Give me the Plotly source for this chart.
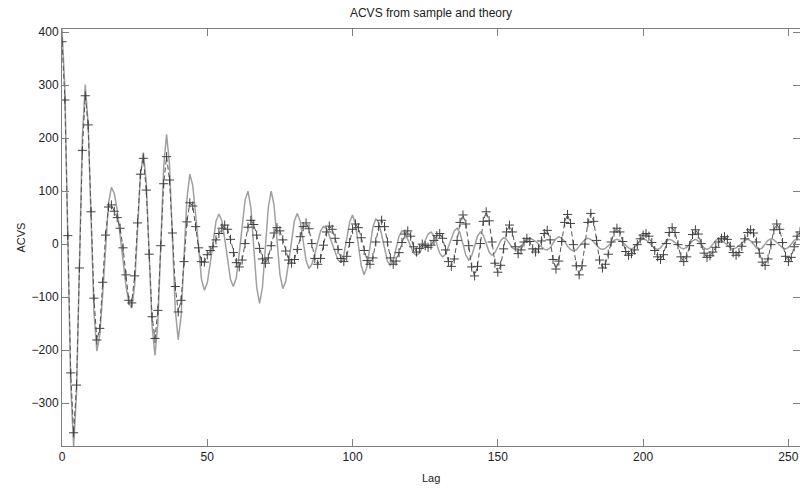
import plotly.graph_objects as go

lags = list(range(0, 256))

acvs_theory = [
    406, 291, 12, -266, -381, -281, -40, 201, 301, 227,
    49, -128, -202, -172, -95, 0, 77, 107, 96, 64,
    18, -32, -78, -110, -121, -78, 26, 130, 173, 117,
    -18, -154, -210, -149, -2, 146, 207, 150, 13, -124,
    -181, -135, -24, 86, 132, 111, 56, -11, -66, -87,
    -73, -37, 7, 43, 57, 44, 10, -33, -67, -80,
    -63, -18, 38, 83, 100, 69, -6, -81, -112, -81,
    -6, 69, 100, 73, 8, -57, -84, -70, -35, 9,
    44, 58, 43, 6, -31, -46, -38, -19, 6, 25,
    33, 29, 16, 0, -17, -30, -34, -21, 10, 42,
    55, 38, -2, -41, -58, -42, -5, 32, 48, 40,
    18, -10, -32, -40, -30, -8, 15, 25, 21, 9,
    -5, -17, -21, -17, -6, 8, 19, 23, 16, 0,
    -17, -24, -19, -5, 11, 25, 30, 21, 0, -21,
    -30, -22, -4, 15, 23, 17, 1, -15, -21, -16,
    -5, 7, 12, 9, 1, -7, -10, -8, -3, 3,
    8, 10, 9, 5, 0, -6, -10, -11, -7, 2,
    10, 14, 11, 5, -4, -10, -13, -11, -5, 3,
    9, 11, 9, 4, -3, -8, -10, -8, -3, 2,
    7, 9, 7, 3, -3, -7, -9, -6, 0, 7,
    10, 8, 3, -3, -8, -10, -7, 0, 6, 9,
    7, 3, -3, -7, -9, -6, 0, 6, 9, 6,
    0, -7, -10, -7, 0, 7, 10, 8, 3, -2,
    -7, -9, -7, -3, 3, 7, 9, 6, 0, -7,
    -10, -7, 0, 7, 10, 8, 3, -2, -7, -9,
    -6, 0, 7, 10, 8, 3,
]

acvs_sample = [
    382, 272, 16, -243, -356, -266, -45, 177, 280, 225,
    61, -102, -181, -159, -72, 17, 70, 74, 62, 50,
    30, -7, -58, -106, -111, -60, 40, 132, 162, 102,
    -19, -137, -178, -125, -3, 114, 165, 121, 21, -80,
    -128, -106, -33, 42, 78, 72, 33, -7, -33, -34,
    -20, -12, -5, 8, 20, 30, 36, 28, 9, -16,
    -35, -43, -30, 1, 32, 45, 37, 17, -8, -28,
    -36, -26, -3, 21, 31, 25, 8, -13, -30, -36,
    -29, -10, 14, 33, 40, 29, 1, -27, -38, -27,
    -2, 23, 34, 28, 11, -10, -27, -33, -23, 3,
    28, 38, 31, 12, -12, -31, -38, -26, 4, 33,
    45, 33, 4, -26, -38, -32, -16, 3, 19, 25,
    15, -5, -15, -8, 0, -3, -6, -2, 7, 16,
    20, 11, -11, -33, -42, -28, 7, 41, 55, 38,
    -3, -43, -60, -42, 1, 43, 61, 44, 4, -36,
    -53, -40, -9, 23, 36, 23, -5, -18, -11, 4,
    11, 5, -9, -15, -9, 6, 20, 26, 8, -29,
    -47, -32, 5, 41, 56, 39, -1, -41, -58, -41,
    0, 41, 58, 43, 7, -30, -45, -38, -19, 4,
    23, 30, 23, 5, -14, -21, -18, -11, -1, 10,
    17, 20, 15, 3, -12, -24, -29, -20, 1, 22,
    31, 22, -1, -24, -33, -24, -3, 18, 27, 19,
    1, -17, -25, -22, -15, -6, 4, 11, 14, 9,
    -4, -16, -21, -16, -4, 10, 22, 27, 21, 4,
    -17, -34, -40, -28, -1, 27, 38, 28, 3, -23,
    -33, -25, -5, 15, 23, 20,
]

x_ticks = [0, 50, 100, 150, 200, 250]
y_ticks = [-300, -200, -100, 0, 100, 200, 300, 400]

FONT = "Liberation Sans, Arial, sans-serif"
AXIS_GRAY = "#808080"

fig = go.Figure()

fig.add_trace(go.Scatter(
    x=lags, y=acvs_theory, mode="lines", name="theory",
    line=dict(color="#a0a0a0", width=1.5),
))

fig.add_trace(go.Scatter(
    x=lags, y=acvs_sample, mode="lines+markers", name="sample",
    line=dict(color="#555555", width=1, dash="5px,3px"),
    marker=dict(symbol="cross-thin", size=6.5,
                line=dict(color="#404040", width=1)),
))

fig.update_layout(
    width=800, height=493,
    margin=dict(l=62, r=0, t=29, b=47),
    paper_bgcolor="white", plot_bgcolor="white",
    showlegend=False,
    font=dict(family=FONT, size=12, color="#222222"),
    title=dict(text="ACVS from sample and theory",
               x=0.5, xref="paper", xanchor="center",
               y=1 - 13 / 493, yref="container", yanchor="middle",
               font=dict(family=FONT, size=12, color="#222222")),
)

fig.update_xaxes(
    range=[0, 254], tickvals=x_ticks,
    showline=True, linecolor=AXIS_GRAY, linewidth=1, mirror="ticks",
    ticks="inside", ticklen=7, tickcolor=AXIS_GRAY, tickwidth=1,
    showgrid=False, zeroline=False,
    tickfont=dict(family=FONT, size=12, color="#222222"),
)
fig.update_yaxes(
    range=[-381, 406], tickvals=y_ticks,
    showline=True, linecolor=AXIS_GRAY, linewidth=1, mirror="ticks",
    ticks="inside", ticklen=7, tickcolor=AXIS_GRAY, tickwidth=1,
    showgrid=False, zeroline=False,
    tickfont=dict(family=FONT, size=12, color="#222222"),
)

fig.add_annotation(text="Lag", xref="paper", yref="paper",
                   x=0.5, y=(446 - 478) / 417, xanchor="center", yanchor="middle",
                   showarrow=False, font=dict(family=FONT, size=11, color="#222222"))
fig.add_annotation(text="ACVS", xref="paper", yref="paper",
                   x=(20 - 62) / 738, y=0.5, xanchor="center", yanchor="middle",
                   textangle=-90, showarrow=False,
                   font=dict(family=FONT, size=11, color="#222222"))

fig.write_html("out.html")
